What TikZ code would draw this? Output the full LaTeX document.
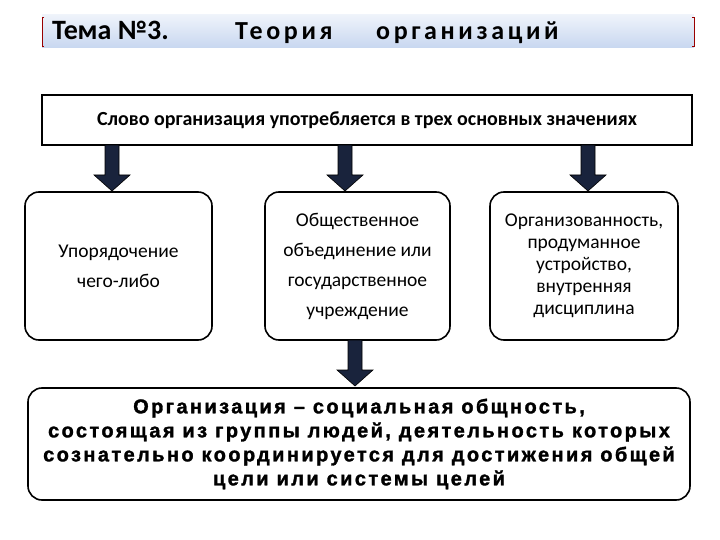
\documentclass[tikz,border=0pt]{standalone}
\usepackage{fontspec}
\setmainfont{Carlito}
\newfontfamily\spaced[LetterSpace=14]{Carlito}
\newfontfamily\heavy[LetterSpace=12,FakeBold=1.5]{Liberation Sans}
\definecolor{barblue}{RGB}{200,215,240}
\definecolor{arrowc}{RGB}{25,35,60}
\tikzset{
  rbox/.style={draw,line width=1.6pt,rounded corners=14pt,align=center,font=\fontsize{19.5}{30}\selectfont},
  bigarrow/.style={draw=black,line width=0.6pt,fill=arrowc},
}
\newcommand\downarrowshape[3]{% x, ytop, ybottom
  \filldraw[bigarrow] (#1-7,#2) -- (#1+7,#2) -- (#1+7,#3-16) -- (#1+18,#3-16) -- (#1,#3) -- (#1-18,#3-16) -- (#1-7,#3-16) -- cycle;}
\begin{document}
\begin{tikzpicture}[x=1pt,y=-1pt]
\useasboundingbox (0,0) rectangle (720,540);
\fill[top color=white!70!barblue,bottom color=barblue] (42,15) rectangle (694,48);
\draw[red!60!black,line width=0.8pt] (44,17)--(42,17)--(42,46)--(44,46) (692,17)--(694,17)--(694,46)--(692,46);
\node[anchor=base west,font=\bfseries\fontsize{28}{30}\selectfont,inner sep=0pt] (t1) at (52,40) {Тема №3.};
\node[anchor=base west,font=\spaced\bfseries\fontsize{26}{30}\selectfont,inner sep=0pt] (t2) at (235,40) {Теория};
\node[anchor=base west,font=\spaced\bfseries\fontsize{26}{30}\selectfont,inner sep=0pt] (t3) at (376,40) {организаций};
\node[draw,line width=1.4pt,minimum width=650pt,minimum height=50pt,font=\fontsize{20}{22}\selectfont\bfseries] (top) at (367,120) {Слово организация употребляется в трех основных значениях};
\node[rbox,minimum width=187pt,minimum height=148pt] (b1) at (118.5,266) {Упорядочение\\чего-либо};
\node[rbox,minimum width=185pt,minimum height=148pt] (b2) at (357.5,266) {Общественное\\объединение или\\государственное\\учреждение};
\node[rbox,minimum width=188pt,minimum height=148pt,font=\fontsize{19.5}{22}\selectfont] (b3) at (584,266) {Организованность,\\продуманное\\устройство,\\внутренняя\\дисциплина};
\node[rbox,minimum width=662pt,minimum height=112pt,font=\heavy\bfseries\fontsize{20}{24}\selectfont] (b4) at (359,444) {Организация – социальная общность,\\состоящая из группы людей, деятельность которых\\сознательно координируется для достижения общей\\цели или системы целей};
\downarrowshape{112}{145}{191}
\downarrowshape{345}{145}{191}
\downarrowshape{588}{145}{191}
\downarrowshape{355}{340}{386}
\end{tikzpicture}
\end{document}
